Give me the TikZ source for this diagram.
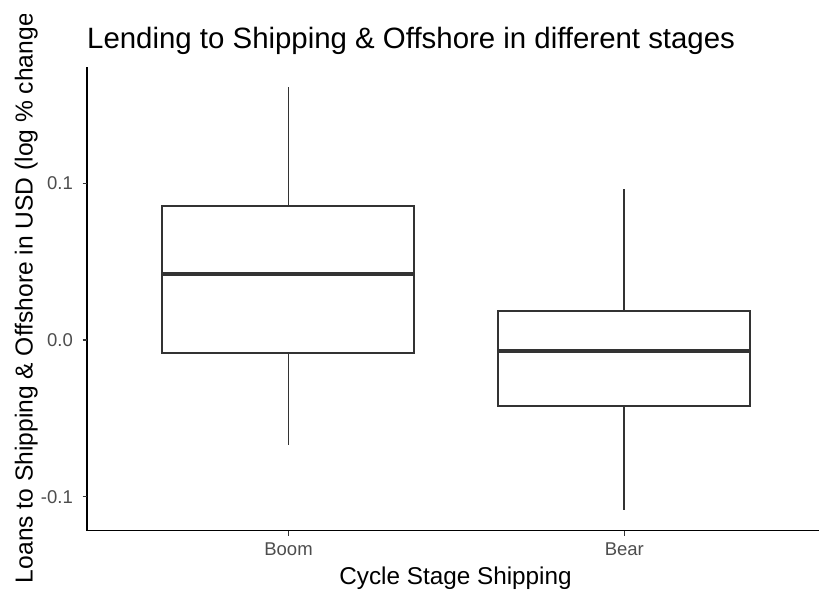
\documentclass[tikz,border=0pt]{standalone}
\usepackage{fontspec}
\setmainfont{Liberation Sans}
\definecolor{boxline}{HTML}{333333}
\definecolor{ticktext}{HTML}{4D4D4D}
\tikzset{
  boxstyle/.style={draw=boxline, line width=1.7pt, fill=white},
  medianline/.style={draw=boxline, line width=3.4pt},
  whisker/.style={draw=boxline, line width=1.8pt},
  axisline/.style={draw=black, line width=1.7pt},
  tickmark/.style={draw=boxline, line width=1.5pt},
  ticklabel/.style={text=ticktext, inner sep=0pt, font=\fontsize{18.5}{20}\selectfont},
  axistitle/.style={text=black, inner sep=0pt, font=\fontsize{24.3}{26}\selectfont},
  ytitle/.style={text=black, inner sep=0pt, font=\fontsize{24.6}{26}\selectfont},
  plottitle/.style={text=black, inner sep=0pt, font=\fontsize{29.4}{31}\selectfont}
}
\begin{document}
\begin{tikzpicture}[x=1pt,y=-1pt]
\useasboundingbox (0,0) rectangle (819,590);
\fill[white] (0,0) rectangle (819,590);

% Boom box
\draw[whisker] (288.5,87) -- (288.5,205.7);
\draw[whisker] (288.5,352.7) -- (288.5,445);
\draw[boxstyle] (162.3,205.7) rectangle (414.3,352.7);
\draw[medianline] (162.3,274) -- (414.3,274);

% Bear box
\draw[whisker] (624.3,189) -- (624.3,310.7);
\draw[whisker] (624.3,406) -- (624.3,510);
\draw[boxstyle] (497.7,310.7) rectangle (750,406);
\draw[medianline] (497.7,351) -- (750,351);

% axes
\coordinate (ytop) at (87,67);
\coordinate (origin) at (87,530.5);
\coordinate (xend) at (819,530.5);
\draw[axisline] (ytop) -- (origin) -- (xend);

% y ticks
\foreach \yy/\lab/\nm in {183.3/0.1/ya, 340/0.0/yb, 496.7/-0.1/yc}{
  \draw[tickmark] (82.5,\yy) -- (87,\yy);
  \node[ticklabel, anchor=east] (\nm) at (73,\yy) {\lab};
}
% x ticks
\foreach \xx/\lab/\nm in {288.5/Boom/xa, 624.3/Bear/xb}{
  \draw[tickmark] (\xx,530.5) -- (\xx,535.5);
  \node[ticklabel, anchor=base] (\nm) at (\xx,555) {\lab};
}

% titles
\node[plottitle, anchor=base west] (title) at (87,48.5) {Lending to Shipping \& Offshore in different stages};
\node[axistitle, anchor=base] (xlab) at (455.5,584) {Cycle Stage Shipping};
\begin{scope}
\clip (0,14.5) rectangle (70,590);
\node[ytitle, anchor=base, rotate=90] (ylab) at (32.5,294) {Loans to Shipping \& Offshore in USD (log \% change)};
\end{scope}
\end{tikzpicture}
\end{document}
